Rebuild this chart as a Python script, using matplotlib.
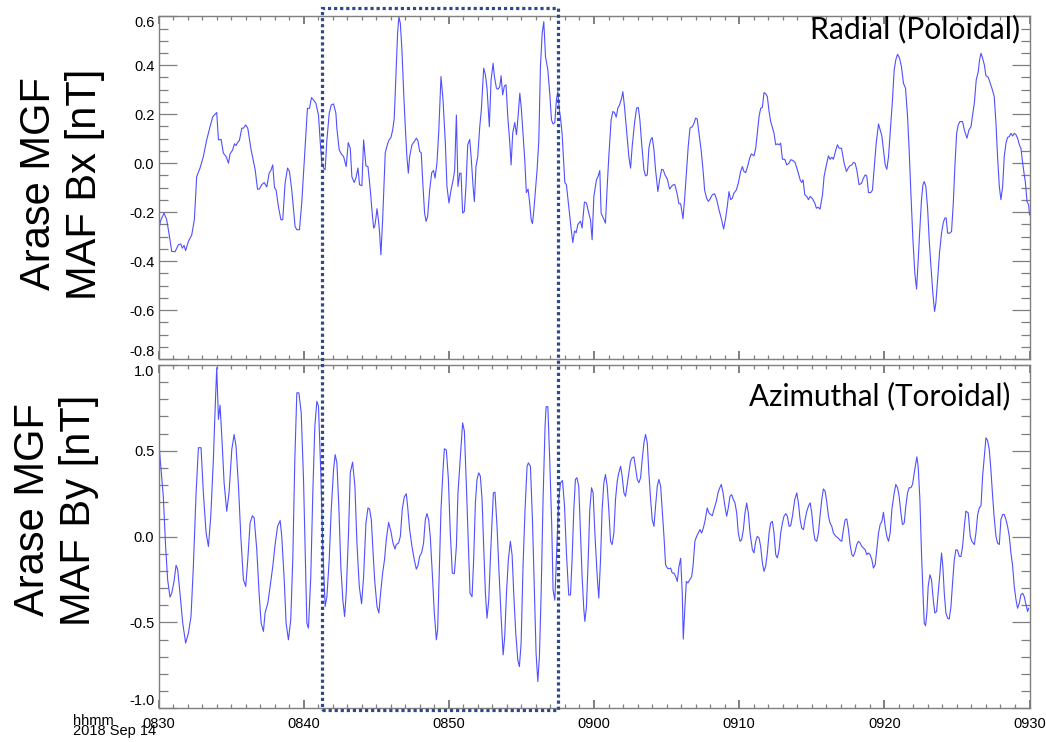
import matplotlib
matplotlib.use("Agg")
import matplotlib.pyplot as plt
import matplotlib.transforms as mtrans
from matplotlib.patches import Rectangle
from matplotlib.ticker import MultipleLocator

plt.rcParams["font.family"] = "Liberation Sans"
plt.rcParams["axes.unicode_minus"] = False

# Arase MGF, MAF coordinates, 2018 Sep 14; time in minutes after 08:30 UT
BX_T = [0.00, 0.17, 0.38, 0.56, 0.72, 0.91, 1.14, 1.37, 1.53, 1.64, 1.76, 1.87, 2.06, 2.29, 2.47,
        2.63, 2.86, 3.09, 3.32, 3.55, 3.74, 4.01, 4.13, 4.31, 4.47, 4.66, 4.82, 4.93, 5.11, 5.23,
        5.34, 5.44, 5.57, 5.74, 5.85, 6.01, 6.15, 6.38, 6.66, 6.82, 6.95, 7.11, 7.28, 7.46, 7.62,
        7.74, 7.87, 7.99, 8.10, 8.26, 8.43, 8.56, 8.72, 8.89, 9.02, 9.18, 9.41, 9.53, 9.71, 9.87,
        10.10, 10.26, 10.40, 10.54, 10.68, 10.84, 11.02, 11.14, 11.25, 11.37, 11.48, 11.60, 11.76,
        11.90, 12.06, 12.22, 12.29, 12.45, 12.59, 12.75, 12.93, 13.07, 13.21, 13.32, 13.48, 13.60,
        13.74, 13.85, 14.01, 14.13, 14.29, 14.43, 14.59, 14.70, 14.82, 14.89, 14.98, 15.05, 15.16,
        15.23, 15.32, 15.44, 15.55, 15.62, 15.78, 15.90, 16.01, 16.13, 16.24, 16.38, 16.47, 16.56,
        16.66, 16.77, 16.89, 17.00, 17.11, 17.21, 17.30, 17.46, 17.62, 17.76, 17.87, 17.99, 18.10,
        18.22, 18.33, 18.43, 18.54, 18.68, 18.82, 18.95, 19.05, 19.18, 19.30, 19.46, 19.60, 19.76,
        19.87, 20.01, 20.15, 20.29, 20.40, 20.52, 20.63, 20.75, 20.84, 20.95, 21.07, 21.18, 21.30,
        21.44, 21.55, 21.67, 21.76, 21.87, 21.99, 22.13, 22.24, 22.40, 22.52, 22.63, 22.79, 22.91,
        23.05, 23.14, 23.28, 23.39, 23.51, 23.60, 23.71, 23.83, 23.94, 24.06, 24.20, 24.29, 24.40,
        24.54, 24.66, 24.77, 24.89, 25.00, 25.11, 25.23, 25.34, 25.46, 25.57, 25.67, 25.76, 25.85,
        25.97, 26.08, 26.20, 26.31, 26.43, 26.54, 26.66, 26.82, 26.95, 27.07, 27.18, 27.30, 27.41,
        27.51, 27.60, 27.69, 27.80, 27.99, 28.10, 28.26, 28.43, 28.54, 28.66, 28.77, 28.89, 29.07,
        29.18, 29.34, 29.48, 29.64, 29.76, 29.87, 29.99, 30.17, 30.29, 30.40, 30.49, 30.68, 30.79,
        30.91, 31.02, 31.18, 31.30, 31.41, 31.53, 31.64, 31.76, 31.90, 31.99, 32.10, 32.22, 32.40,
        32.52, 32.63, 32.79, 32.93, 33.05, 33.16, 33.28, 33.44, 33.55, 33.67, 33.78, 33.90, 34.01,
        34.13, 34.24, 34.40, 34.52, 34.66, 34.77, 34.89, 35.05, 35.21, 35.34, 35.46, 35.57, 35.74,
        35.85, 35.97, 36.13, 36.24, 36.38, 36.49, 36.61, 36.77, 36.89, 37.00, 37.11, 37.23, 37.39,
        37.53, 37.62, 37.76, 37.87, 37.99, 38.15, 38.31, 38.45, 38.61, 38.79, 38.93, 39.07, 39.18,
        39.30, 39.41, 39.53, 39.64, 39.80, 39.94, 40.10, 40.22, 40.33, 40.45, 40.61, 40.72, 40.84,
        41.02, 41.14, 41.25, 41.37, 41.48, 41.60, 41.71, 41.83, 41.94, 42.06, 42.17, 42.29, 42.40,
        42.52, 42.63, 42.75, 42.86, 42.98, 43.14, 43.28, 43.44, 43.55, 43.71, 43.85, 44.01, 44.20,
        44.31, 44.40, 44.52, 44.66, 44.77, 44.89, 45.05, 45.21, 45.32, 45.44, 45.57, 45.74, 45.85,
        46.01, 46.15, 46.26, 46.38, 46.49, 46.66, 46.77, 46.89, 47.05, 47.23, 47.39, 47.51, 47.62,
        47.76, 47.87, 47.99, 48.10, 48.26, 48.43, 48.56, 48.68, 48.79, 48.91, 49.07, 49.18, 49.30,
        49.44, 49.60, 49.71, 49.83, 49.94, 50.06, 50.17, 50.29, 50.40, 50.56, 50.68, 50.79, 50.91,
        51.05, 51.18, 51.32, 51.46, 51.60, 51.71, 51.83, 51.97, 52.10, 52.22, 52.31, 52.43, 52.56,
        52.66, 52.75, 52.86, 52.98, 53.09, 53.21, 53.34, 53.46, 53.55, 53.67, 53.80, 53.94, 54.06,
        54.17, 54.26, 54.36, 54.49, 54.63, 54.75, 54.86, 54.98, 55.09, 55.21, 55.39, 55.51, 55.69,
        55.83, 55.97, 56.08, 56.20, 56.33, 56.47, 56.56, 56.66, 56.77, 56.89, 57.00, 57.16, 57.30,
        57.41, 57.57, 57.69, 57.80, 57.92, 58.03, 58.15, 58.26, 58.38, 58.49, 58.61, 58.72, 58.84,
        58.95, 59.07, 59.18, 59.30, 59.41, 59.53, 59.64, 59.71, 59.83, 59.94, 60.00]
BX = [-0.272, -0.231, -0.204, -0.230, -0.286, -0.360, -0.362, -0.333, -0.330, -0.347, -0.336, -0.357,
      -0.320, -0.293, -0.231, -0.055, -0.020, 0.027, 0.095, 0.149, 0.190, 0.207, 0.095, 0.097,
      0.041, 0.027, 0.000, 0.038, 0.054, 0.079, 0.072, 0.084, 0.092, 0.143, 0.143, 0.156, 0.143,
      0.054, -0.027, -0.106, -0.106, -0.088, -0.079, -0.097, -0.041, -0.030, -0.007, -0.100, -0.110,
      -0.177, -0.231, -0.231, -0.082, -0.020, -0.034, -0.110, -0.259, -0.272, -0.272, -0.160, 0.068,
      0.224, 0.224, 0.268, 0.258, 0.245, 0.197, 0.088, 0.000, -0.020, -0.027, 0.095, 0.204, 0.238,
      0.242, 0.204, 0.140, 0.054, 0.038, 0.027, -0.014, 0.084, 0.061, -0.055, -0.079, -0.061,
      -0.020, -0.088, -0.092, 0.095, -0.011, -0.014, -0.110, -0.190, -0.265, -0.260, -0.223, -0.186,
      -0.237, -0.284, -0.374, -0.231, -0.061, 0.042, 0.079, 0.097, 0.105, 0.135, 0.184, 0.394,
      0.531, 0.598, 0.571, 0.462, 0.286, 0.149, 0.027, -0.041, 0.027, 0.075, 0.088, 0.102, 0.092,
      0.048, 0.042, -0.095, -0.204, -0.238, -0.218, -0.110, -0.039, -0.030, -0.061, 0.000, 0.122,
      0.354, 0.258, 0.082, -0.095, -0.163, -0.110, -0.070, -0.030, 0.197, -0.095, -0.041, -0.041,
      -0.204, -0.197, -0.095, 0.075, 0.097, 0.014, -0.095, -0.157, -0.014, 0.027, 0.149, 0.218,
      0.388, 0.361, 0.306, 0.149, 0.340, 0.408, 0.354, 0.306, 0.302, 0.313, 0.357, 0.279, 0.316,
      0.320, 0.190, 0.082, -0.007, 0.122, 0.166, 0.116, 0.190, 0.286, 0.218, 0.122, 0.014, -0.120,
      -0.106, -0.163, -0.231, -0.247, -0.197, -0.110, -0.027, 0.095, 0.394, 0.531, 0.578, 0.435,
      0.381, 0.286, 0.177, 0.160, 0.166, 0.258, 0.292, 0.224, 0.187, 0.122, -0.079, -0.088, -0.177,
      -0.272, -0.324, -0.277, -0.284, -0.250, -0.237, -0.265, -0.159, -0.163, -0.204, -0.231, -0.313,
      -0.136, -0.068, -0.052, -0.030, -0.204, -0.229, -0.245, -0.095, 0.027, 0.177, 0.211, 0.207,
      0.188, 0.224, 0.238, 0.265, 0.292, 0.231, 0.149, 0.027, -0.020, 0.068, 0.163, 0.224, 0.228,
      0.177, 0.082, -0.027, -0.052, -0.048, 0.061, 0.095, 0.105, 0.054, -0.027, -0.116, -0.068,
      -0.025, -0.027, -0.048, -0.065, -0.106, -0.095, -0.088, -0.088, -0.129, -0.166, -0.166, -0.227,
      -0.149, -0.027, 0.068, 0.143, 0.149, 0.163, 0.184, 0.180, 0.122, 0.048, -0.041, -0.110,
      -0.143, -0.156, -0.147, -0.129, -0.125, -0.149, -0.190, -0.231, -0.269, -0.224, -0.177, -0.116,
      -0.149, -0.143, -0.122, -0.110, -0.082, -0.034, -0.014, -0.034, -0.039, -0.007, 0.020, 0.038,
      0.030, 0.061, 0.122, 0.190, 0.224, 0.228, 0.288, 0.283, 0.272, 0.211, 0.170, 0.146, 0.122,
      0.075, 0.079, 0.075, 0.082, 0.016, 0.016, -0.007, 0.000, 0.014, 0.011, 0.003, -0.027, -0.068,
      -0.079, -0.068, -0.129, -0.136, -0.149, -0.136, -0.145, -0.163, -0.184, -0.180, -0.188, -0.129,
      -0.054, -0.007, 0.030, 0.016, 0.024, 0.016, 0.054, 0.075, 0.061, 0.061, 0.000, -0.034, -0.020,
      -0.011, -0.007, 0.003, 0.000, -0.027, -0.088, -0.082, -0.061, -0.048, -0.052, -0.120, -0.120,
      -0.110, -0.020, 0.082, 0.160, 0.136, 0.111, 0.054, -0.007, -0.025, 0.027, 0.122, 0.258, 0.381,
      0.422, 0.445, 0.429, 0.394, 0.326, 0.306, 0.190, 0.054, -0.123, -0.313, -0.449, -0.514, -0.421,
      -0.286, -0.149, -0.088, -0.075, -0.095, -0.184, -0.313, -0.421, -0.531, -0.606, -0.571, -0.476,
      -0.367, -0.286, -0.243, -0.224, -0.224, -0.286, -0.286, -0.279, -0.163, -0.014, 0.122, 0.156,
      0.170, 0.170, 0.136, 0.102, 0.136, 0.149, 0.197, 0.245, 0.340, 0.374, 0.422, 0.449, 0.429,
      0.401, 0.357, 0.351, 0.326, 0.306, 0.272, 0.163, 0.027, -0.095, -0.149, -0.095, 0.027, 0.082,
      0.105, 0.109, 0.122, 0.111, 0.122, 0.116, 0.102, 0.075, 0.061, 0.000, -0.048, -0.075, -0.157,
      -0.170, -0.211]

BY_T = [0.00, 0.10, 0.33, 0.49, 0.63, 0.79, 0.91, 1.07, 1.21, 1.32, 1.48, 1.67, 1.87, 2.06, 2.24,
        2.40, 2.59, 2.75, 2.93, 3.09, 3.28, 3.44, 3.60, 3.78, 3.90, 4.01, 4.13, 4.24, 4.36, 4.52,
        4.70, 4.86, 5.05, 5.21, 5.34, 5.51, 5.67, 5.85, 6.01, 6.15, 6.31, 6.47, 6.59, 6.77, 6.93,
        7.07, 7.23, 7.34, 7.53, 7.69, 7.87, 8.03, 8.20, 8.38, 8.49, 8.66, 8.79, 8.95, 9.11, 9.25,
        9.39, 9.53, 9.67, 9.83, 9.99, 10.10, 10.22, 10.33, 10.49, 10.63, 10.77, 10.91, 11.02, 11.18,
        11.32, 11.48, 11.60, 11.76, 11.90, 12.06, 12.17, 12.29, 12.43, 12.56, 12.70, 12.82, 12.93,
        13.09, 13.21, 13.37, 13.53, 13.67, 13.83, 13.99, 14.13, 14.29, 14.43, 14.54, 14.66, 14.77,
        14.89, 15.05, 15.18, 15.30, 15.44, 15.57, 15.69, 15.85, 16.01, 16.15, 16.29, 16.38, 16.54,
        16.66, 16.79, 16.93, 17.07, 17.16, 17.30, 17.46, 17.62, 17.76, 17.87, 17.99, 18.13, 18.26,
        18.38, 18.49, 18.61, 18.72, 18.86, 19.00, 19.14, 19.23, 19.34, 19.46, 19.60, 19.69, 19.83,
        19.97, 20.10, 20.24, 20.38, 20.52, 20.63, 20.75, 20.86, 20.95, 21.07, 21.21, 21.34, 21.46,
        21.60, 21.71, 21.83, 21.94, 22.06, 22.17, 22.29, 22.40, 22.52, 22.63, 22.75, 22.86, 22.98,
        23.07, 23.18, 23.32, 23.46, 23.60, 23.74, 23.85, 23.97, 24.10, 24.24, 24.36, 24.47, 24.61,
        24.75, 24.86, 24.98, 25.11, 25.25, 25.39, 25.48, 25.62, 25.76, 25.90, 26.01, 26.13, 26.24,
        26.36, 26.49, 26.63, 26.70, 26.82, 26.95, 27.09, 27.18, 27.30, 27.41, 27.57, 27.69, 27.83,
        27.97, 28.10, 28.26, 28.38, 28.49, 28.61, 28.72, 28.82, 28.95, 29.07, 29.18, 29.30, 29.37,
        29.48, 29.60, 29.71, 29.83, 29.94, 30.06, 30.22, 30.33, 30.45, 30.56, 30.68, 30.79, 30.91,
        31.02, 31.14, 31.25, 31.37, 31.48, 31.60, 31.71, 31.83, 31.94, 32.06, 32.17, 32.29, 32.40,
        32.52, 32.63, 32.75, 32.86, 32.98, 33.09, 33.21, 33.32, 33.44, 33.55, 33.67, 33.78, 33.90,
        34.01, 34.13, 34.24, 34.36, 34.47, 34.59, 34.70, 34.82, 34.93, 35.05, 35.16, 35.28, 35.39,
        35.51, 35.62, 35.74, 35.85, 35.97, 36.08, 36.15, 36.24, 36.36, 36.47, 36.59, 36.72, 36.82,
        36.95, 37.07, 37.18, 37.30, 37.41, 37.53, 37.64, 37.80, 37.92, 38.03, 38.15, 38.26, 38.43,
        38.54, 38.66, 38.77, 38.89, 39.02, 39.14, 39.25, 39.37, 39.48, 39.60, 39.71, 39.83, 39.94,
        40.06, 40.17, 40.29, 40.40, 40.52, 40.63, 40.75, 40.91, 41.02, 41.14, 41.25, 41.37, 41.48,
        41.60, 41.71, 41.83, 41.94, 42.06, 42.17, 42.29, 42.40, 42.52, 42.63, 42.75, 42.86, 42.98,
        43.09, 43.21, 43.32, 43.44, 43.55, 43.67, 43.83, 43.97, 44.08, 44.20, 44.31, 44.43, 44.54,
        44.66, 44.77, 44.89, 45.00, 45.11, 45.22, 45.34, 45.46, 45.57, 45.69, 45.80, 45.92, 46.03,
        46.15, 46.26, 46.38, 46.49, 46.66, 46.82, 46.95, 47.07, 47.18, 47.30, 47.41, 47.53, 47.64,
        47.76, 47.87, 47.99, 48.10, 48.22, 48.33, 48.45, 48.56, 48.68, 48.79, 48.91, 49.02, 49.14,
        49.25, 49.37, 49.48, 49.60, 49.71, 49.83, 49.94, 50.06, 50.17, 50.29, 50.40, 50.52, 50.68,
        50.79, 50.91, 51.02, 51.14, 51.25, 51.37, 51.48, 51.60, 51.71, 51.83, 51.94, 52.06, 52.17,
        52.24, 52.33, 52.45, 52.56, 52.68, 52.75, 52.84, 52.93, 53.02, 53.14, 53.25, 53.37, 53.48,
        53.60, 53.71, 53.83, 53.94, 54.03, 54.13, 54.24, 54.36, 54.47, 54.59, 54.70, 54.82, 54.93,
        55.05, 55.16, 55.28, 55.39, 55.51, 55.62, 55.78, 55.92, 56.03, 56.20, 56.31, 56.43, 56.54,
        56.66, 56.77, 56.89, 57.00, 57.11, 57.23, 57.34, 57.46, 57.57, 57.69, 57.80, 57.92, 58.03,
        58.15, 58.26, 58.38, 58.49, 58.61, 58.72, 58.84, 58.95, 59.07, 59.18, 59.30, 59.41, 59.53,
        59.64, 59.76, 59.87, 59.94]
BY = [0.595, 0.468, 0.235, -0.057, -0.251, -0.352, -0.330, -0.260, -0.167, -0.190, -0.330, -0.504,
      -0.620, -0.562, -0.465, -0.175, 0.255, 0.518, 0.518, 0.255, 0.021, -0.057, 0.117, 0.449, 0.741,
      0.984, 0.683, 0.766, 0.585, 0.313, 0.148, 0.255, 0.508, 0.595, 0.527, 0.294, 0.002, -0.251,
      -0.290, -0.134, 0.080, 0.122, 0.109, -0.076, -0.330, -0.504, -0.552, -0.445, -0.387, -0.290,
      -0.175, -0.048, 0.059, 0.094, 0.002, -0.251, -0.504, -0.601, -0.484, -0.134, 0.449, 0.838,
      0.838, 0.722, 0.333, -0.057, -0.504, -0.533, -0.231, 0.255, 0.644, 0.789, 0.760, 0.372, -0.076,
      -0.407, -0.350, -0.134, 0.158, 0.391, 0.478, 0.430, 0.158, -0.175, -0.370, -0.465, -0.330,
      0.021, 0.372, 0.434, 0.294, -0.037, -0.290, -0.391, -0.231, 0.080, 0.167, 0.161, 0.099, -0.076,
      -0.251, -0.407, -0.445, -0.330, -0.212, -0.134, -0.018, 0.083, 0.031, -0.037, -0.072, -0.046,
      -0.037, 0.002, 0.158, 0.231, 0.250, 0.177, 0.041, -0.057, -0.134, -0.189, -0.170, -0.115,
      -0.092, -0.037, 0.099, 0.134, 0.099, 0.002, -0.212, -0.445, -0.601, -0.542, -0.212, 0.158,
      0.391, 0.512, 0.504, 0.333, 0.021, -0.212, -0.216, -0.057, 0.255, 0.410, 0.547, 0.663, 0.615,
      0.294, -0.037, -0.330, -0.350, -0.134, 0.197, 0.333, 0.372, 0.352, 0.216, -0.057, -0.330,
      -0.475, -0.370, -0.134, 0.099, 0.255, 0.259, 0.060, -0.212, -0.465, -0.689, -0.582, -0.330,
      -0.134, -0.027, -0.109, -0.330, -0.562, -0.718, -0.757, -0.620, -0.175, 0.158, 0.410, 0.430,
      0.410, 0.099, -0.330, -0.679, -0.844, -0.698, -0.330, 0.216, 0.644, 0.757, 0.757, 0.449, 0.060,
      -0.310, -0.370, -0.134, 0.216, 0.313, 0.327, 0.177, -0.095, -0.340, -0.340, -0.134, 0.158,
      0.333, 0.343, 0.294, 0.021, -0.231, -0.426, -0.494, -0.407, -0.134, 0.158, 0.285, 0.255, 0.021,
      -0.231, -0.358, -0.134, 0.158, 0.314, 0.362, 0.294, 0.158, -0.027, -0.046, 0.021, 0.216, 0.323,
      0.372, 0.410, 0.352, 0.255, 0.235, 0.304, 0.372, 0.440, 0.459, 0.465, 0.401, 0.333, 0.314,
      0.343, 0.449, 0.547, 0.595, 0.547, 0.372, 0.216, 0.099, 0.060, 0.177, 0.294, 0.333, 0.294,
      0.158, 0.002, -0.163, -0.183, -0.187, -0.183, -0.212, -0.212, -0.231, -0.261, -0.175, -0.126,
      -0.330, -0.597, -0.445, -0.261, -0.270, -0.251, -0.235, -0.175, -0.027, 0.002, 0.021, 0.041,
      0.021, 0.050, 0.089, 0.167, 0.138, 0.129, 0.122, 0.158, 0.206, 0.255, 0.284, 0.304, 0.255,
      0.177, 0.119, 0.167, 0.235, 0.245, 0.216, 0.197, 0.138, 0.021, -0.027, -0.018, 0.041, 0.138,
      0.196, 0.138, 0.021, -0.076, -0.095, -0.027, 0.002, -0.008, -0.057, -0.154, -0.202, -0.170,
      -0.095, 0.021, 0.080, 0.089, 0.021, -0.105, -0.124, -0.076, 0.021, 0.080, 0.119, 0.134, 0.119,
      0.060, 0.064, 0.119, 0.216, 0.255, 0.197, 0.099, 0.050, 0.041, 0.099, 0.148, 0.177, 0.197,
      0.138, 0.041, -0.018, -0.027, 0.021, 0.119, 0.216, 0.278, 0.265, 0.206, 0.119, 0.080, 0.060,
      0.021, 0.002, -0.008, -0.021, -0.027, 0.041, 0.099, 0.103, 0.041, -0.046, -0.105, -0.115,
      -0.086, -0.046, -0.027, -0.037, -0.057, -0.066, -0.076, -0.105, -0.095, -0.105, -0.134, -0.183,
      -0.163, -0.076, 0.021, 0.070, 0.089, 0.142, 0.060, 0.002, -0.027, 0.021, 0.158, 0.255, 0.304,
      0.285, 0.235, 0.138, 0.070, 0.080, 0.177, 0.255, 0.285, 0.285, 0.304, 0.372, 0.430, 0.465,
      0.410, 0.216, -0.095, -0.368, -0.504, -0.519, -0.445, -0.290, -0.222, -0.251, -0.368, -0.445,
      -0.436, -0.330, -0.212, -0.095, -0.173, -0.330, -0.445, -0.475, -0.480, -0.407, -0.270, -0.134,
      -0.076, -0.080, -0.115, -0.115, -0.057, 0.060, 0.149, 0.138, 0.002, -0.027, -0.046, 0.021,
      0.129, 0.167, 0.181, 0.352, 0.468, 0.576, 0.560, 0.508, 0.391, 0.235, 0.109, 0.002, -0.037,
      -0.046, 0.099, 0.129, 0.129, 0.099, 0.060, 0.002, -0.095, -0.173, -0.290, -0.368, -0.417,
      -0.387, -0.338, -0.330, -0.350, -0.397, -0.436, -0.417]

HHMM_MIN = [0, 10, 20, 30, 40, 50, 60]
HHMM = ["0830", "0840", "0850", "0900", "0910", "0920", "0930"]
BX_TICKS = [-0.8, -0.6, -0.4, -0.2, 0.0, 0.2, 0.4, 0.6]
BY_TICKS = [-1.0, -0.5, 0.0, 0.5, 1.0]
BOX_T = (11.28, 27.53)     # interval of interest, minutes after 0830

W, H = 1046, 742
LINE = "#5050ff"
FRAME = "#7f7f7f"

fig = plt.figure(figsize=(W / 100, H / 100), dpi=100)
ax1 = fig.add_axes([158.5 / W, 1 - 359 / H, 871 / W, (359 - 16.3) / H])
ax2 = fig.add_axes([158.5 / W, 1 - 708.3 / H, 871 / W, (708.3 - 365) / H])


def style(ax, yticks, yminor, ylim):
    ax.set_xlim(0, 60)
    ax.set_ylim(*ylim)
    ax.set_xticks(HHMM_MIN)
    ax.xaxis.set_minor_locator(MultipleLocator(1))
    ax.set_yticks(yticks)
    ax.set_yticklabels([f"{v:.1f}" for v in yticks])
    ax.yaxis.set_minor_locator(MultipleLocator(yminor))
    ax.tick_params(which="both", direction="in", top=True, right=True, colors=FRAME,
                   labelcolor="black", labelsize=10.5)
    ax.tick_params(axis="y", which="major", length=13, width=0.9, pad=3)
    ax.tick_params(axis="y", which="minor", length=6.5, width=0.9)
    ax.tick_params(axis="x", which="major", length=6, width=1.4, pad=6)
    ax.tick_params(axis="x", which="minor", length=3, width=0.9)
    for s in ax.spines.values():
        s.set_color(FRAME)
        s.set_linewidth(1.0)
    # keep the end labels inside the panel height, as the stacked panels touch
    labels = ax.get_yticklabels()
    labels[0].set_va("bottom")
    labels[-1].set_va("top")


ax1.plot(BX_T, BX, color=LINE, lw=0.8)
style(ax1, BX_TICKS, 0.05, (-0.8, 0.6))
ax1.set_xticklabels([])

ax2.plot(BY_T, BY, color=LINE, lw=0.8)
style(ax2, BY_TICKS, 0.1, (-1.0, 1.0))
ax2.set_xticklabels(HHMM)

fig.text(62 / W, 1 - 184 / H, "Arase MGF\nMAF Bx [nT]", rotation=90, fontsize=30,
         ha="center", va="center", multialignment="center")
fig.text(56 / W, 1 - 510 / H, "Arase MGF\nMAF By [nT]", rotation=90, fontsize=30,
         ha="center", va="center", multialignment="center")

fig.text(1020 / W, 1 - 38 / H, "Radial (Poloidal)", fontsize=21.7, family="Lato",
         ha="right", va="baseline")
fig.text(1010 / W, 1 - 405 / H, "Azimuthal (Toroidal)", fontsize=21.3, family="Lato",
         ha="right", va="baseline")

fig.text(73 / W, 1 - 725 / H, "hhmm", fontsize=10.5, va="baseline")
fig.text(73 / W, 1 - 735 / H, "2018 Sep 14", fontsize=10.5, va="baseline")

# dotted box spanning both panels around the interval of interest
blend = mtrans.blended_transform_factory(ax2.transData, fig.transFigure)
y0, y1 = 1 - 709.5 / H, 1 - 8 / H
fig.add_artist(Rectangle((BOX_T[0], y0), BOX_T[1] - BOX_T[0], y1 - y0, transform=blend,
                         fill=False, edgecolor="#2d4b8c", lw=2.3, linestyle=(0, (1, 0.9)),
                         clip_on=False))

fig.savefig("out.png", dpi=100)
